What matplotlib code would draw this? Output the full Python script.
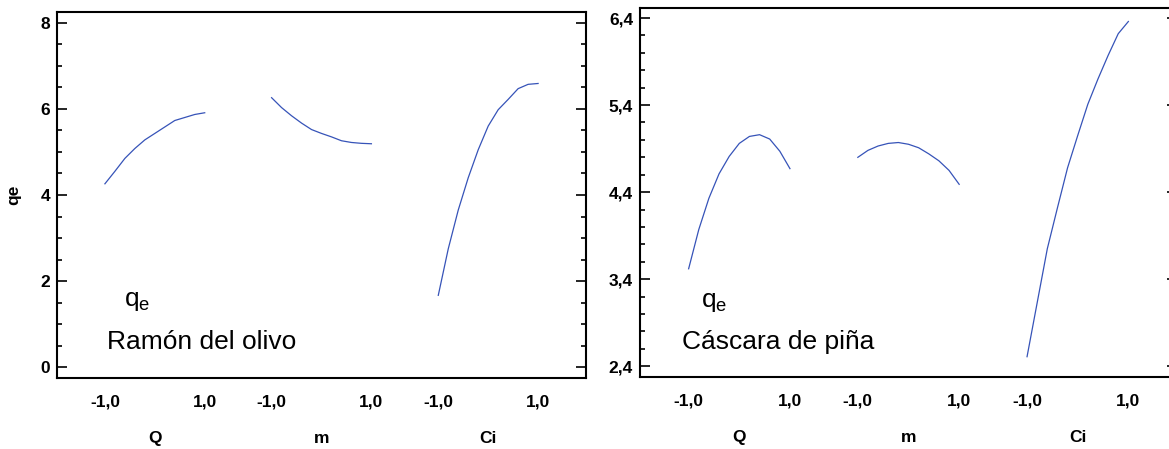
import matplotlib
matplotlib.use("Agg")
import matplotlib.pyplot as plt
from matplotlib.ticker import FixedLocator
import matplotlib.transforms as mtransforms

plt.rcParams['font.family'] = ['Liberation Sans', 'DejaVu Sans']
plt.rcParams['mathtext.fontset'] = 'custom'
plt.rcParams['mathtext.rm'] = 'Liberation Sans'
plt.rcParams['mathtext.it'] = 'Liberation Sans'

# coded factor levels (-1 .. 1)
levels = [-1.0, -0.8, -0.6, -0.4, -0.2, 0.0, 0.2, 0.4, 0.6, 0.8, 1.0]
factors = ['Q', 'm', 'Ci']

# Ramón del olivo
olivo_Q = [4.26, 4.55, 4.85, 5.08, 5.28, 5.43, 5.58, 5.73, 5.80, 5.87, 5.91]
olivo_m = [6.26, 6.03, 5.84, 5.67, 5.52, 5.43, 5.35, 5.26, 5.22, 5.20, 5.19]
olivo_Ci = [1.67, 2.75, 3.65, 4.40, 5.05, 5.60, 5.98, 6.22, 6.47, 6.57, 6.59]

# Cáscara de piña
pina_Q = [3.52, 3.97, 4.33, 4.61, 4.81, 4.96, 5.04, 5.06, 5.01, 4.87, 4.67]
pina_m = [4.80, 4.88, 4.93, 4.96, 4.97, 4.95, 4.91, 4.84, 4.76, 4.65, 4.49]
pina_Ci = [2.51, 3.13, 3.75, 4.22, 4.68, 5.05, 5.41, 5.70, 5.97, 6.22, 6.36]

line_color = '#3653b8'
seg_step = 3.34   # distance between factor segment centres


def panel(ax, series, ylim, major_ticks, minor_ticks, ytick_fmt):
    ticks, labels = [], []
    trans = mtransforms.blended_transform_factory(ax.transData, ax.transAxes)
    for i, (fac, vals) in enumerate(zip(factors, series)):
        off = i * seg_step
        ax.plot([off + v for v in levels], vals, color=line_color, lw=0.9)
        ticks += [off - 1, off + 1]
        labels += ['-1,0', '1,0']
        ax.text(off, -0.165, fac, transform=trans, ha='center', va='center',
                fontsize=12.5, fontweight='bold')
    ax.set_xlim(-1.96, 2 * seg_step + 1.96)
    ax.set_ylim(*ylim)
    ax.set_xticks(ticks)
    ax.set_xticklabels(labels, fontsize=12.5, fontweight='bold')
    ax.tick_params(axis='x', length=0, pad=12)
    ax.yaxis.set_major_locator(FixedLocator(major_ticks))
    ax.yaxis.set_minor_locator(FixedLocator(minor_ticks))
    ax.yaxis.set_major_formatter(plt.FuncFormatter(ytick_fmt))
    ax.tick_params(axis='y', which='both', direction='in', left=True, right=True,
                   width=1.2, labelsize=12.5, pad=5)
    ax.tick_params(axis='y', which='major', length=7)
    ax.tick_params(axis='y', which='minor', length=3.5)
    for lab in ax.get_yticklabels():
        lab.set_fontweight('bold')
    for sp in ax.spines.values():
        sp.set_linewidth(1.5)


fig = plt.figure(figsize=(11.69, 4.49), dpi=100)
W, H = 1169.0, 449.0

ax1 = fig.add_axes([57 / W, 1 - 378 / H, (586 - 57) / W, (378 - 12) / H])
panel(ax1, [olivo_Q, olivo_m, olivo_Ci], (-0.25, 8.25),
      [0, 2, 4, 6, 8], [0.5 * k for k in range(17)],
      lambda v, p: f'{v:.0f}')
ax1.set_ylabel('qe', fontsize=12.5, fontweight='bold', labelpad=14)
ax1.text(-0.62, 1.43, r'q$_\mathregular{e}$', fontsize=19)
ax1.text(-0.96, 0.43, 'Ramón del olivo', fontsize=19)

# right panel runs slightly past the figure edge, as in the original crop
ax2 = fig.add_axes([640 / W, 1 - 377 / H, 537 / W, (377 - 8) / H])
panel(ax2, [pina_Q, pina_m, pina_Ci], (2.277, 6.515),
      [2.4, 3.4, 4.4, 5.4, 6.4], [2.4 + 0.2 * k for k in range(21)],
      lambda v, p: f'{v:.1f}'.replace('.', ','))
ax2.text(-0.76, 3.08, r'q$_\mathregular{e}$', fontsize=19)
ax2.text(-1.13, 2.60, 'Cáscara de piña', fontsize=19)

fig.savefig('out.png', dpi=100)
